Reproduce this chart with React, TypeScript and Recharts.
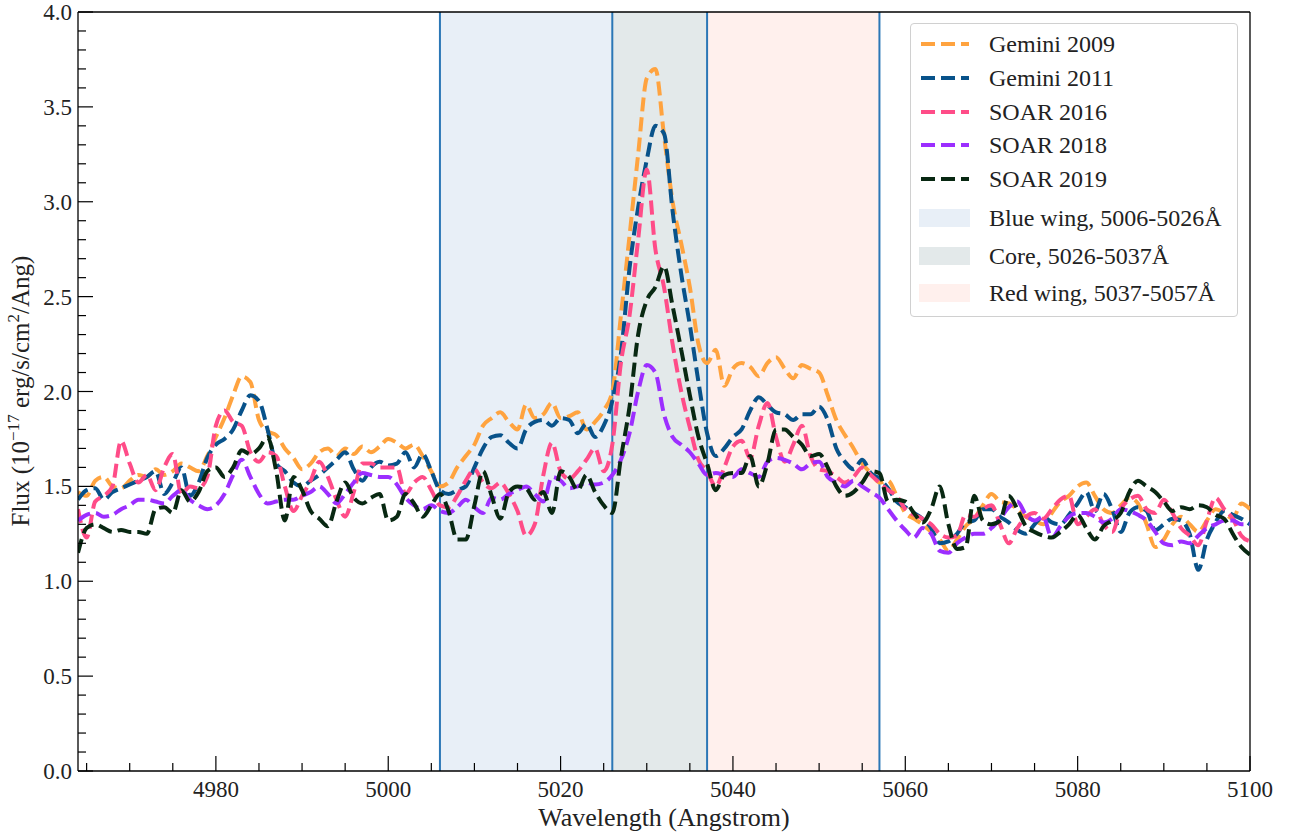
import { LineChart, Line, XAxis, YAxis, ReferenceArea, ReferenceLine, Legend } from 'recharts'

const wavelength = Array.from({ length: 137 }, (_, i) => 4964 + i)

const gemini2009 = [
  1.47, 1.45, 1.53, 1.55, 1.50, 1.49, 1.53, 1.56, 1.55, 1.59,
  1.56, 1.58, 1.62, 1.60, 1.58, 1.66, 1.76, 1.86, 1.98, 2.08,
  2.05, 1.85, 1.79, 1.77, 1.70, 1.65, 1.59, 1.62, 1.68, 1.70,
  1.66, 1.70, 1.67, 1.71, 1.68, 1.71, 1.75, 1.73, 1.70, 1.72,
  1.66, 1.58, 1.50, 1.52, 1.60, 1.66, 1.72, 1.82, 1.86, 1.89,
  1.84, 1.80, 1.93, 1.86, 1.88, 1.94, 1.86, 1.87, 1.89, 1.80,
  1.84, 1.90, 2.00, 2.40, 2.82, 3.25, 3.65, 3.70, 3.35, 3.00,
  2.78, 2.55, 2.25, 2.15, 2.22, 2.03, 2.12, 2.15, 2.13, 2.08,
  2.15, 2.18, 2.12, 2.07, 2.14, 2.12, 2.10, 1.98, 1.85, 1.77,
  1.70, 1.62, 1.57, 1.52, 1.53, 1.45, 1.36, 1.33, 1.30, 1.26,
  1.22, 1.16, 1.22, 1.29, 1.33, 1.40, 1.46, 1.42, 1.41, 1.38,
  1.34, 1.32, 1.30, 1.36, 1.42, 1.45, 1.50, 1.52, 1.45, 1.38,
  1.36, 1.40, 1.44, 1.41, 1.30, 1.18, 1.22, 1.30, 1.34, 1.30,
  1.26, 1.32, 1.38, 1.36, 1.33, 1.41, 1.38,
]

const gemini2011 = [
  1.43, 1.48, 1.49, 1.43, 1.47, 1.49, 1.51, 1.53, 1.55, 1.58,
  1.46, 1.52, 1.60, 1.45, 1.52, 1.65, 1.72, 1.75, 1.80, 1.90,
  1.98, 1.95, 1.80, 1.62, 1.58, 1.52, 1.50, 1.53, 1.56, 1.60,
  1.64, 1.68, 1.59, 1.53, 1.60, 1.63, 1.61, 1.62, 1.68, 1.60,
  1.67, 1.58, 1.48, 1.46, 1.48, 1.50, 1.60, 1.70, 1.76, 1.77,
  1.73, 1.70, 1.80, 1.84, 1.85, 1.82, 1.86, 1.85, 1.78, 1.83,
  1.76, 1.82, 1.95, 2.20, 2.65, 2.97, 3.22, 3.40, 3.36, 2.95,
  2.62, 2.35, 2.05, 1.78, 1.66, 1.70, 1.76, 1.80, 1.90, 1.97,
  1.93, 1.89, 1.88, 1.85, 1.88, 1.88, 1.92, 1.85, 1.70, 1.63,
  1.59, 1.64, 1.57, 1.54, 1.49, 1.42, 1.39, 1.36, 1.33, 1.28,
  1.20, 1.21, 1.25, 1.31, 1.32, 1.38, 1.38, 1.34, 1.31, 1.27,
  1.25, 1.30, 1.34, 1.31, 1.30, 1.35, 1.41, 1.47, 1.37, 1.46,
  1.38, 1.26, 1.36, 1.39, 1.37, 1.27, 1.30, 1.33, 1.32, 1.25,
  1.06, 1.22, 1.31, 1.37, 1.35, 1.33, 1.30,
]

const soar2016 = [
  1.38, 1.23, 1.42, 1.45, 1.50, 1.74, 1.62, 1.52, 1.56, 1.48,
  1.60, 1.67, 1.46, 1.50, 1.49, 1.55, 1.82, 1.90, 1.84, 1.82,
  1.68, 1.63, 1.68, 1.66, 1.50, 1.37, 1.45, 1.53, 1.63, 1.55,
  1.43, 1.34, 1.47, 1.62, 1.62, 1.60, 1.60, 1.60, 1.46, 1.52,
  1.55, 1.48, 1.40, 1.39, 1.45, 1.53, 1.59, 1.52, 1.49, 1.52,
  1.46, 1.37, 1.24, 1.30, 1.56, 1.73, 1.58, 1.54, 1.58, 1.64,
  1.70, 1.58, 1.72, 2.15, 2.40, 2.80, 3.17, 2.75, 2.55, 2.25,
  2.00, 1.81, 1.64, 1.58, 1.50, 1.60, 1.71, 1.74, 1.65, 1.82,
  1.94, 1.76, 1.63, 1.72, 1.82, 1.66, 1.59, 1.58, 1.55, 1.52,
  1.55, 1.60, 1.56, 1.52, 1.48, 1.45, 1.38, 1.35, 1.33, 1.30,
  1.25, 1.23, 1.24, 1.35, 1.34, 1.38, 1.40, 1.30, 1.20, 1.28,
  1.34, 1.36, 1.33, 1.38, 1.43, 1.45, 1.30, 1.34, 1.38, 1.30,
  1.26, 1.38, 1.43, 1.45, 1.38, 1.36, 1.43, 1.36, 1.28, 1.24,
  1.19, 1.32, 1.44, 1.38, 1.33, 1.24, 1.21,
]

const soar2018 = [
  1.32, 1.35, 1.36, 1.34, 1.35, 1.38, 1.40, 1.43, 1.43, 1.42,
  1.41, 1.45, 1.48, 1.43, 1.40, 1.38, 1.40, 1.46, 1.56, 1.64,
  1.55, 1.46, 1.41, 1.42, 1.43, 1.43, 1.45, 1.47, 1.50, 1.46,
  1.41, 1.46, 1.52, 1.57, 1.56, 1.55, 1.55, 1.51, 1.44, 1.40,
  1.38, 1.40, 1.37, 1.36, 1.39, 1.43, 1.39, 1.36, 1.44, 1.43,
  1.46, 1.48, 1.50, 1.46, 1.42, 1.55, 1.53, 1.49, 1.50, 1.52,
  1.51, 1.52, 1.56, 1.64, 1.78, 2.00, 2.14, 2.10, 1.88, 1.76,
  1.72, 1.68, 1.62, 1.56, 1.57, 1.56, 1.55, 1.59, 1.57, 1.55,
  1.63, 1.65, 1.64, 1.62, 1.59, 1.62, 1.63, 1.55, 1.52, 1.50,
  1.53, 1.50, 1.47, 1.44, 1.38, 1.32, 1.27, 1.23, 1.28, 1.25,
  1.16, 1.15, 1.20, 1.23, 1.25, 1.25, 1.28, 1.33, 1.39, 1.42,
  1.35, 1.32, 1.34, 1.23, 1.29, 1.34, 1.36, 1.36, 1.34, 1.31,
  1.33, 1.38, 1.37, 1.35, 1.32, 1.26, 1.20, 1.19, 1.21, 1.20,
  1.24, 1.28, 1.30, 1.32, 1.32, 1.30, 1.30,
]

const soar2019 = [
  1.15, 1.28, 1.30, 1.28, 1.26, 1.27, 1.26, 1.26, 1.25, 1.38,
  1.39, 1.36, 1.48, 1.42, 1.47, 1.58, 1.60, 1.55, 1.60, 1.69,
  1.67, 1.70, 1.76, 1.58, 1.32, 1.55, 1.48, 1.37, 1.33, 1.29,
  1.42, 1.52, 1.44, 1.41, 1.44, 1.46, 1.32, 1.34, 1.46, 1.41,
  1.34, 1.40, 1.46, 1.37, 1.22, 1.22, 1.40, 1.58, 1.45, 1.33,
  1.47, 1.50, 1.49, 1.43, 1.47, 1.36, 1.58, 1.55, 1.48, 1.56,
  1.47, 1.40, 1.36, 1.65, 1.92, 2.30, 2.48, 2.55, 2.66, 2.45,
  2.22, 1.98, 1.76, 1.62, 1.48, 1.56, 1.57, 1.57, 1.66, 1.50,
  1.62, 1.80, 1.80, 1.76, 1.72, 1.66, 1.67, 1.60, 1.50, 1.45,
  1.47, 1.52, 1.58, 1.57, 1.42, 1.43, 1.42, 1.36, 1.31, 1.38,
  1.50, 1.30, 1.17, 1.18, 1.45, 1.32, 1.30, 1.32, 1.45, 1.38,
  1.29, 1.26, 1.24, 1.23, 1.26, 1.30, 1.35, 1.28, 1.22, 1.29,
  1.32, 1.36, 1.47, 1.53, 1.50, 1.47, 1.42, 1.37, 1.39, 1.38,
  1.40, 1.39, 1.35, 1.33, 1.25, 1.18, 1.14,
]

const seriesKeys = ['g2009', 'g2011', 's2016', 's2018', 's2019']
const seriesNames = ['Gemini 2009', 'Gemini 2011', 'SOAR 2016', 'SOAR 2018', 'SOAR 2019']
const seriesColors = ['#ffa33f', '#08528a', '#ff4c88', '#9c2eff', '#082812']

const bandNames = ['Blue wing, 5006-5026Å', 'Core, 5026-5037Å', 'Red wing, 5037-5057Å']
const bandStart = [5006, 5026, 5037]
const bandEnd = [5026, 5037, 5057]
const bandColors = ['#e8eff7', '#e3e9ea', '#fff0ed']
const bandEdges = [5006, 5026, 5037, 5057]

const xTicks = Array.from({ length: 28 }, (_, i) => 4965 + i * 5)
const yTicks = Array.from({ length: 41 }, (_, i) => i / 10)

const data = wavelength.map((w, i) => ({
  w,
  g2009: gemini2009[i],
  g2011: gemini2011[i],
  s2016: soar2016[i],
  s2018: soar2018[i],
  s2019: soar2019[i],
}))

const FONT = '"Liberation Serif", "DejaVu Serif", serif'

function XTick(props: any) {
  const { x, y, payload } = props
  const v = payload.value
  const major = v % 20 === 0
  return (
    <g>
      <line x1={x} y1={y} x2={x} y2={y - (major ? 15 : 8)} stroke="#000" strokeWidth={1.2} />
      {major && (
        <text x={x} y={y + 26} textAnchor="middle" fontSize={23} fill="#222" fontFamily={FONT}>
          {v}
        </text>
      )}
    </g>
  )
}

function YTick(props: any) {
  const { x, y, payload } = props
  const v = payload.value
  const major = Math.abs(v * 2 - Math.round(v * 2)) < 1e-6
  return (
    <g>
      <line x1={x} y1={y} x2={x + (major ? 15 : 8)} y2={y} stroke="#000" strokeWidth={1.2} />
      {major && (
        <text x={x - 6} y={y + 8} textAnchor="end" fontSize={23} fill="#222" fontFamily={FONT}>
          {v.toFixed(1)}
        </text>
      )}
    </g>
  )
}

function YLabel() {
  return (
    <text
      x={29}
      y={391}
      transform="rotate(-90, 29, 391)"
      textAnchor="middle"
      fontSize={25}
      fill="#222"
      fontFamily={FONT}
    >
      Flux (10
      <tspan dy={-10} fontSize={17}>−17</tspan>
      <tspan dy={10}> erg/s/cm</tspan>
      <tspan dy={-10} fontSize={17}>2</tspan>
      <tspan dy={10}>/Ang)</tspan>
    </text>
  )
}

function XLabel() {
  return (
    <text x={664} y={826} textAnchor="middle" fontSize={26} fill="#222" fontFamily={FONT}>
      Wavelength (Angstrom)
    </text>
  )
}

function LegendBox() {
  return (
    <div
      style={{
        width: 326,
        height: 292,
        border: '1px solid #d0d0d0',
        borderRadius: 4,
        background: 'rgba(255,255,255,0.85)',
        position: 'relative',
        fontFamily: FONT,
        fontSize: 24,
        color: '#222',
      }}
    >
      {seriesNames.map((name, i) => (
        <div key={name} style={{ position: 'absolute', left: 0, top: 3 + i * 33.8, height: 34, width: '100%' }}>
          <svg width={60} height={34} style={{ position: 'absolute', left: 8, top: 0 }}>
            <line x1={2} y1={17} x2={50} y2={17} stroke={seriesColors[i]} strokeWidth={4} strokeDasharray="14 6" />
          </svg>
          <span style={{ position: 'absolute', left: 78, top: 2, whiteSpace: 'nowrap', lineHeight: '30px' }}>{name}</span>
        </div>
      ))}
      {bandNames.map((name, i) => (
        <div key={name} style={{ position: 'absolute', left: 0, top: 176 + i * 37.5, height: 38, width: '100%' }}>
          <div
            style={{ position: 'absolute', left: 8, top: 9, width: 51, height: 18, background: bandColors[i] }}
          />
          <span style={{ position: 'absolute', left: 78, top: 2, whiteSpace: 'nowrap', lineHeight: '32px' }}>{name}</span>
        </div>
      ))}
    </div>
  )
}

export default function App() {
  return (
    <div style={{ position: 'absolute', left: 0, top: 0, width: 1300, height: 839, background: '#fff' }}>
      <LineChart width={1300} height={839} data={data} margin={{ top: 12, right: 50, left: 0, bottom: 0 }}>
        {bandStart.map((s, i) => (
          <ReferenceArea key={bandNames[i]} x1={s} x2={bandEnd[i]} y1={0} y2={4} fill={bandColors[i]} fillOpacity={1} stroke="none" />
        ))}
        {bandEdges.map((e) => (
          <ReferenceLine key={e} x={e} stroke="#2b77b6" strokeWidth={2} />
        ))}
        <XAxis
          dataKey="w"
          type="number"
          domain={[4964, 5100]}
          allowDataOverflow
          ticks={xTicks}
          interval={0}
          tick={<XTick />}
          tickLine={false}
          tickSize={0}
          tickMargin={0}
          height={68}
          stroke="#000"
          strokeWidth={1.3}
          label={<XLabel />}
        />
        <YAxis
          type="number"
          domain={[0, 4]}
          allowDataOverflow
          ticks={yTicks}
          interval={0}
          tick={<YTick />}
          tickLine={false}
          tickSize={0}
          tickMargin={0}
          width={78}
          stroke="#000"
          strokeWidth={1.3}
          label={<YLabel />}
        />
        <ReferenceLine y={4} stroke="#000" strokeWidth={1.3} />
        <ReferenceLine x={5100} stroke="#000" strokeWidth={1.3} />
        {seriesKeys.map((k, i) => (
          <Line
            key={k}
            type="monotone"
            dataKey={k}
            name={seriesNames[i]}
            stroke={seriesColors[i]}
            strokeWidth={4}
            strokeDasharray="14 6"
            dot={false}
            activeDot={false}
            isAnimationActive={false}
          />
        ))}
        <Legend
          layout="vertical"
          align="center"
          verticalAlign="middle"
          content={<LegendBox />}
          wrapperStyle={{ position: 'absolute', left: 910, top: 23, width: 328, height: 294 }}
        />
      </LineChart>
    </div>
  )
}
